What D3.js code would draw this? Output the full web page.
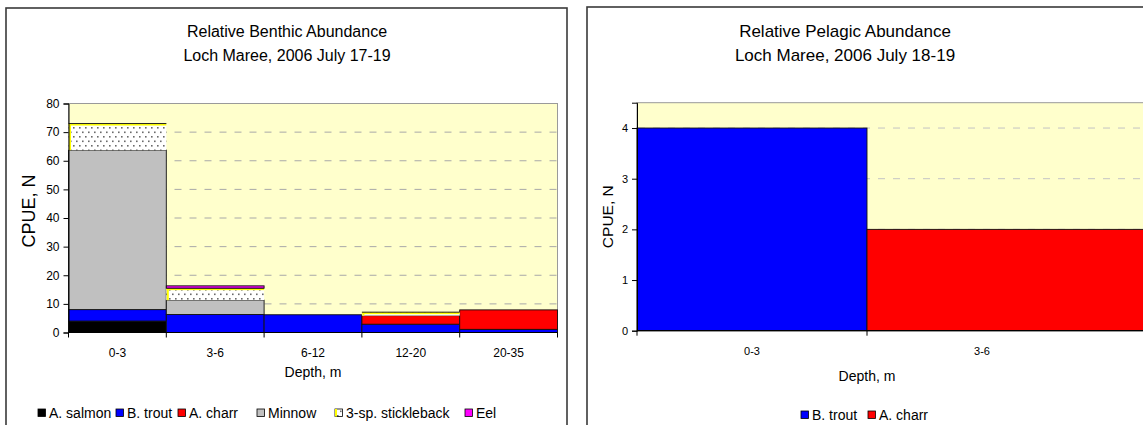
<!DOCTYPE html>
<html>
<head>
<meta charset="utf-8">
<script src="https://cdn.jsdelivr.net/npm/d3@7"></script>
<style>
  html, body { margin: 0; padding: 0; background: #fff; }
  svg { display: block; font-family: "Liberation Sans", Arial, sans-serif; }
</style>
</head>
<body>
<svg id="chart" width="1143" height="425"></svg>
<script>
// ---- Benthic survey (CPUE by depth band) ----
const benthicDepths = ["0-3", "3-6", "6-12", "12-20", "20-35"];
const benthicSalmon = [4, 0, 0, 0, 0];
const benthicTrout = [4, 6.3, 6.2, 2.9, 1.1];
const benthicCharr = [0, 0, 0, 3.0, 6.8];
const benthicMinnow = [55.7, 5, 0, 0, 0];
const benthicStickleback = [9.3, 4.2, 0, 1.2, 0];
const benthicEel = [0, 0.8, 0, 0, 0];
const benthicTicks = [0, 10, 20, 30, 40, 50, 60, 70, 80];

// ---- Pelagic survey ----
const pelagicDepths = ["0-3", "3-6"];
const pelagicTrout = [4, 0];
const pelagicCharr = [0, 2];
const pelagicTicks = [0, 1, 2, 3, 4];

const speciesNames = ["A. salmon", "B. trout", "A. charr", "Minnow", "3-sp. stickleback", "Eel"];
const speciesFill = {
  "A. salmon": "#000000",
  "B. trout": "#0000ff",
  "A. charr": "#ff0000",
  "Minnow": "#c0c0c0",
  "3-sp. stickleback": "url(#dots)",
  "Eel": "#ff00ff"
};

const svg = d3.select("#chart");

// dotted fill used for sticklebacks
const defs = svg.append("defs");
const pat = defs.append("pattern").attr("id", "dots")
  .attr("patternUnits", "userSpaceOnUse").attr("width", 6).attr("height", 9);
pat.append("rect").attr("width", 6).attr("height", 9).attr("fill", "#fff");
pat.append("rect").attr("x", 1).attr("y", 1).attr("width", 1.6).attr("height", 1.6).attr("fill", "#6a6a6a");
pat.append("rect").attr("x", 4).attr("y", 5.5).attr("width", 1.6).attr("height", 1.6).attr("fill", "#6a6a6a");
defs.append("clipPath").attr("id", "rightClip")
  .append("rect").attr("x", 0).attr("y", 0).attr("width", 1143).attr("height", 425);

function drawPanel(cfg) {
  const g = svg.append("g");
  // chart frame
  g.append("rect")
    .attr("x", cfg.frame[0]).attr("y", cfg.frame[1])
    .attr("width", cfg.frame[2]).attr("height", 500)
    .attr("fill", "#fff").attr("stroke", "#3a3a3a").attr("stroke-width", 1.6);

  // title
  cfg.title.forEach((t, i) => {
    g.append("text").attr("x", cfg.titleX).attr("y", 37 + i * 24)
      .attr("text-anchor", "middle").attr("font-size", cfg.titleSize).attr("fill", "#000").text(t);
  });

  const x = d3.scaleBand().domain(cfg.categories).range([cfg.left, cfg.bandRight]).padding(0);
  const y = d3.scaleLinear().domain([0, cfg.yMax]).range([cfg.bottom, cfg.top]);

  // plot area
  g.append("rect").attr("x", cfg.left).attr("y", cfg.top)
    .attr("width", cfg.plotRight - cfg.left).attr("height", cfg.bottom - cfg.top)
    .attr("fill", "#ffffcc").attr("stroke", "#9a9a9a").attr("stroke-width", 1);

  // dashed gridlines
  g.selectAll(".grid").data(cfg.ticks.filter(v => v > 0 && y(v) > cfg.top + 1))
    .enter().append("line")
    .attr("x1", cfg.left + 1).attr("x2", cfg.plotRight - 1)
    .attr("y1", d => y(d)).attr("y2", d => y(d))
    .attr("stroke", cfg.gridColor).attr("stroke-width", 1)
    .attr("stroke-dasharray", "7,8");

  // stacked bars
  const stack = d3.stack().keys(cfg.keys)(cfg.categories.map((c, i) => {
    const row = { cat: c };
    cfg.keys.forEach(k => row[k] = cfg.series[k][i]);
    return row;
  }));
  const barRight = (c) => {
    const idx = cfg.categories.indexOf(c);
    return idx === cfg.categories.length - 1 ? cfg.plotRight : x(c) + x.bandwidth();
  };
  stack.forEach(layer => {
    const key = layer.key;
    layer.forEach(seg => {
      const c = seg.data.cat;
      const v = seg[1] - seg[0];
      if (v <= 0) return;
      const x0 = x(c), x1 = barRight(c);
      const y0 = y(seg[0]), y1 = y(seg[1]);
      if (key === "3-sp. stickleback") {
        g.append("rect").attr("x", x0).attr("y", y1).attr("width", x1 - x0).attr("height", y0 - y1)
          .attr("fill", speciesFill[key]);
        g.append("rect").attr("x", x0 + 0.5).attr("y", y1).attr("width", 2).attr("height", y0 - y1)
          .attr("fill", "#ffff00");
        g.append("rect").attr("x", x0).attr("y", y1).attr("width", x1 - x0).attr("height", Math.min(2, y0 - y1))
          .attr("fill", "#ffff00");
        g.append("line").attr("x1", x0).attr("x2", x1).attr("y1", y1).attr("y2", y1)
          .attr("stroke", "#222").attr("stroke-width", 1);
      } else {
        g.append("rect").attr("x", x0).attr("y", y1).attr("width", x1 - x0).attr("height", y0 - y1)
          .attr("fill", speciesFill[key]).attr("stroke", "#111").attr("stroke-width", 0.9);
      }
    });
  });

  // y axis
  const ya = g.append("g").attr("transform", `translate(${cfg.left},0)`)
    .call(d3.axisLeft(y).tickValues(cfg.ticks).tickSize(5).tickPadding(4).tickFormat(d3.format("d")));
  ya.select(".domain").attr("stroke", "#000");
  ya.selectAll(".tick line").attr("stroke", "#000");
  ya.selectAll("text").attr("font-size", cfg.tickSize).attr("fill", "#000")
    .attr("font-family", "Liberation Sans, Arial, sans-serif");

  // x axis (ticks at band boundaries)
  g.append("line").attr("x1", cfg.left).attr("x2", cfg.plotRight)
    .attr("y1", cfg.bottom).attr("y2", cfg.bottom).attr("stroke", "#000").attr("stroke-width", 1.2);
  const bounds = cfg.categories.map(c => x(c)).concat(cfg.showLastTick ? [cfg.bandRight] : []);
  g.selectAll(".xt").data(bounds).enter().append("line")
    .attr("x1", d => d).attr("x2", d => d)
    .attr("y1", cfg.bottom).attr("y2", cfg.bottom + 5).attr("stroke", "#000");
  g.selectAll(".xl").data(cfg.categories).enter().append("text")
    .attr("x", d => x(d) + x.bandwidth() / 2).attr("y", cfg.bottom + 24)
    .attr("text-anchor", "middle").attr("font-size", cfg.tickSize).attr("fill", "#000").text(d => d);

  // axis titles
  g.append("text").attr("x", cfg.xTitleX).attr("y", cfg.xTitleY)
    .attr("text-anchor", "middle").attr("font-size", 14).text("Depth, m");
  g.append("text")
    .attr("transform", `translate(${cfg.yTitleX},${cfg.yTitleY}) rotate(-90)`)
    .attr("text-anchor", "middle").attr("font-size", cfg.yTitleSize).text("CPUE, N");

  // legend
  const ly = cfg.legendY;
  cfg.legendKeys.forEach((k, i) => {
    const lx = cfg.legendXs[i];
    g.append("rect").attr("x", lx).attr("y", ly - 4).attr("width", 7.5).attr("height", 7.5)
      .attr("fill", speciesFill[k]).attr("stroke", "#000").attr("stroke-width", 0.8);
    if (k === "3-sp. stickleback") {
      g.append("rect").attr("x", lx).attr("y", ly - 4).attr("width", 2).attr("height", 7.5).attr("fill", "#ffff00");
    }
    g.append("text").attr("x", lx + 11).attr("y", ly + 5)
      .attr("font-size", 14).text(k);
  });
  return g;
}

drawPanel({
  frame: [6, 8, 561],
  title: ["Relative Benthic Abundance", "Loch Maree, 2006 July 17-19"],
  titleX: 287, titleSize: 16,
  categories: benthicDepths,
  keys: speciesNames,
  series: {
    "A. salmon": benthicSalmon, "B. trout": benthicTrout, "A. charr": benthicCharr,
    "Minnow": benthicMinnow, "3-sp. stickleback": benthicStickleback, "Eel": benthicEel
  },
  ticks: benthicTicks, yMax: 80, tickSize: 12,
  left: 68.5, bandRight: 557.5, plotRight: 557.5, top: 103.5, bottom: 332.5,
  gridColor: "#a8a8a8", showLastTick: true,
  xTitleX: 313, xTitleY: 377, yTitleX: 35, yTitleY: 211, yTitleSize: 18,
  legendKeys: speciesNames, legendXs: [38, 116, 178, 257, 335, 465], legendY: 413
});

const right = drawPanel({
  frame: [587, 7, 620],
  title: ["Relative Pelagic Abundance", "Loch Maree, 2006 July 18-19"],
  titleX: 845, titleSize: 17,
  categories: pelagicDepths,
  keys: ["B. trout", "A. charr"],
  series: { "B. trout": pelagicTrout, "A. charr": pelagicCharr },
  ticks: pelagicTicks, yMax: 4.5, tickSize: 11,
  left: 637, bandRight: 1097, plotRight: 1200, top: 102.7, bottom: 330.7,
  gridColor: "#c4c4c4", showLastTick: false,
  xTitleX: 867, xTitleY: 381, yTitleX: 613, yTitleY: 216.7, yTitleSize: 15.5,
  legendKeys: ["B. trout", "A. charr"], legendXs: [801, 868], legendY: 415
});
right.attr("clip-path", "url(#rightClip)");
</script>
</body>
</html>
